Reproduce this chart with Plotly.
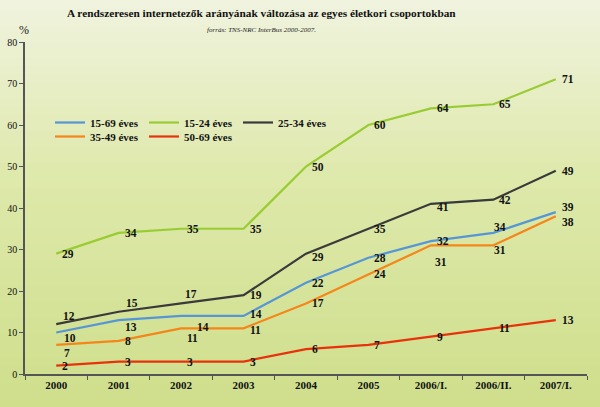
import plotly.graph_objects as go

categories = ["2000", "2001", "2002", "2003", "2004", "2005", "2006/I.", "2006/II.", "2007/I."]
series_names = ["15-69 éves", "15-24 éves", "25-34 éves", "35-49 éves", "50-69 éves"]
v_15_69 = [10, 13, 14, 14, 22, 28, 32, 34, 39]
v_15_24 = [29, 34, 35, 35, 50, 60, 64, 65, 71]
v_25_34 = [12, 15, 17, 19, 29, 35, 41, 42, 49]
v_35_49 = [7, 8, 11, 11, 17, 24, 31, 31, 38]
v_50_69 = [2, 3, 3, 3, 6, 7, 9, 11, 13]
y_ticks = [0, 10, 20, 30, 40, 50, 60, 70, 80]

series_values = [v_15_69, v_15_24, v_25_34, v_35_49, v_50_69]
colors = ["#5596d6", "#99cc33", "#3a3a3a", "#f5861a", "#e8320c"]
legend_group = ["legend", "legend", "legend", "legend2", "legend2"]

# label offsets (xshift, yshift) per point, in px
R = (4, 0)
offsets = {
    "15-69 éves": [(6, -5), (4, -7), (14, -11), (4, 2), R, R, R, (-1, 6), (4, 5)],
    "15-24 éves": [R, R, R, R, R, R, R, R, R],
    "25-34 éves": [(5, 8), (5, 9), (2, 9), R, (4, -3), R, (4, -3), R, R],
    "35-49 éves": [(6, -8), R, (4, -10), (4, -2), R, R, (2, -17), (-1, -5), (4, -6)],
    "50-69 éves": [R, R, R, R, R, R, R, R, R],
}

font_serif = "Liberation Serif"
W, H = 600, 407
ml, mr, mt, mb = 25, 13, 42, 33
pw, ph = W - ml - mr, H - mt - mb


def px(xp, yp):
    return (xp - ml) / pw, (H - mb - yp) / ph


fig = go.Figure()

for name, vals, col, lg in zip(series_names, series_values, colors, legend_group):
    fig.add_trace(go.Scatter(
        x=categories, y=vals, mode="lines", name="<b>%s</b>" % name,
        line=dict(color=col, width=2.2), hoverinfo="skip", legend=lg,
    ))

annotations = []
for name, vals in zip(series_names, series_values):
    for i, v in enumerate(vals):
        dx, dy = offsets[name][i]
        annotations.append(dict(
            x=i, y=v, xref="x", yref="y", text="<b>%d</b>" % v, showarrow=False,
            xanchor="left", yanchor="middle", xshift=dx, yshift=dy,
            font=dict(family=font_serif, size=11.5, color="#111111"),
        ))

tx, ty = px(261, 13)
sx, sy = px(261, 30)
gx, gy = px(24, 30)
annotations += [
    dict(x=tx, y=ty, xref="paper", yref="paper", xanchor="center", yanchor="middle",
         text="<b>A rendszeresen internetezők arányának változása az egyes életkori csoportokban</b>",
         showarrow=False, font=dict(family=font_serif, size=11.3, color="#111111")),
    dict(x=sx, y=sy, xref="paper", yref="paper", xanchor="center", yanchor="middle",
         text="<i>forrás: TNS-NRC InterBus 2000-2007.</i>", showarrow=False,
         font=dict(family=font_serif, size=7, color="#222222")),
    dict(x=gx, y=gy, xref="paper", yref="paper", xanchor="center", yanchor="middle",
         text="%", showarrow=False, font=dict(family=font_serif, size=12, color="#222222")),
]

# background vertical gradient (stripes in paper coords)
shapes = []
top = (240, 243, 222)
mid = (222, 233, 170)
bot = (207, 223, 140)
n = 50
for k in range(n):
    t = k / (n - 1)
    if t < 0.45:
        u = t / 0.45
        c = tuple(int(top[j] + (mid[j] - top[j]) * u) for j in range(3))
    else:
        u = (t - 0.45) / 0.55
        c = tuple(int(mid[j] + (bot[j] - mid[j]) * u) for j in range(3))
    p0 = H * k / n
    p1 = H * (k + 1) / n + 1
    shapes.append(dict(type="rect", xref="paper", yref="paper", layer="below",
                       x0=-ml / pw - 0.01, x1=1 + mr / pw + 0.01,
                       y0=(H - mb - p0) / ph, y1=(H - mb - p1) / ph,
                       line=dict(width=0), fillcolor="rgb(%d,%d,%d)" % c))

lx, ly1 = px(50, 108)
_, ly2 = px(50, 122)
legend_common = dict(orientation="h", xanchor="left", yanchor="top",
                     bgcolor="rgba(0,0,0,0)", font=dict(family=font_serif, size=11, color="#111111"),
                     entrywidth=49, entrywidthmode="pixels", itemwidth=30, tracegroupgap=0)
fig.update_layout(
    width=W, height=H,
    margin=dict(l=ml, r=mr, t=mt, b=mb),
    paper_bgcolor="rgb(214,228,155)",
    plot_bgcolor="rgba(0,0,0,0)",
    shapes=shapes,
    annotations=annotations,
    showlegend=True,
    legend=dict(x=lx, y=ly1, **legend_common),
    legend2=dict(x=lx, y=ly2, **legend_common),
    xaxis=dict(
        type="category", range=[-0.5, 8.5], showgrid=False, zeroline=False,
        showline=True, linecolor="#555555", linewidth=1.5, automargin=False,
        ticks="outside", ticklen=4, tickcolor="#555555", tickson="boundaries",
        tickfont=dict(family=font_serif, size=11, color="#111111"),
        tickprefix="<b>", ticksuffix="</b>",
    ),
    yaxis=dict(
        range=[0, 80], tickvals=y_ticks, showgrid=False, zeroline=False,
        showline=True, linecolor="#555555", linewidth=1.5, automargin=False,
        ticks="outside", ticklen=4, tickcolor="#555555",
        tickfont=dict(family=font_serif, size=10, color="#111111"),
        tickprefix="<b>", ticksuffix="</b>",
    ),
)
fig.write_html("out.html", config={"displayModeBar": False},
               post_script="document.body.style.margin='0';")
